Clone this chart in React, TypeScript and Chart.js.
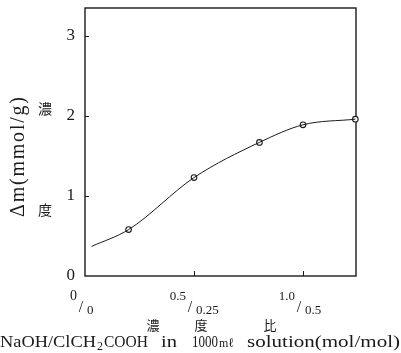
import React, { useEffect, useRef } from "react";
import { Chart, registerables } from "chart.js";

Chart.register(...registerables);

const curveX = [0.03, 0.2, 0.5, 0.8, 1.0, 1.24];
const curveY = [0.37, 0.58, 1.23, 1.67, 1.89, 1.96];
const pointX = [0.2, 0.5, 0.8, 1.0, 1.24];
const pointY = [0.58, 1.23, 1.67, 1.89, 1.96];
const xTickValues = [0, 0.5, 1.0];
const xTickNumerators = ["0", "0.5", "1.0"];
const xTickDenominators = ["0", "0.25", "0.5"];
const yTickValues = [0, 1, 2, 3];
const yTitle = "Δm(mmol/g)";
const yKanji = ["濃", "度"];
const xKanji = ["濃", "度", "比"];
const xTitleParts = ["NaOH/ClCH", "2", "COOH", "in", "1000", "mℓ", "solution(mol/mol)"];

const SERIF = '"Liberation Serif", "DejaVu Serif", serif';
const CJK = '"Noto Sans CJK JP", sans-serif';
const INK = "#1a1a1a";

// layout of the bottom title pieces: [left, right, font size, dy]
const titleLayout: [number, number, number, number][] = [
  [0, 96, 17, 0],
  [97, 103, 12, 3],
  [104, 148, 17, 0],
  [161, 177, 17, 0],
  [192, 218, 16, 0],
  [219, 234, 13, 0],
  [247, 400, 17, 0],
];

function fitText(ctx: any, text: string, x0: number, x1: number, y: number) {
  const w = ctx.measureText(text).width;
  ctx.save();
  ctx.translate(x0, y);
  ctx.scale((x1 - x0) / w, 1);
  ctx.fillText(text, 0, 0);
  ctx.restore();
}

const decorPlugin = {
  id: "decor",
  beforeDatasetsDraw(chart: any) {
    const { ctx, chartArea: ca, scales } = chart;
    const xs = scales.x;
    const ys = scales.y;
    ctx.save();
    ctx.strokeStyle = INK;
    ctx.lineWidth = 1.4;
    ctx.strokeRect(ca.left, ca.top, ca.right - ca.left, ca.bottom - ca.top);
    ctx.lineWidth = 1;
    ctx.beginPath();
    yTickValues.forEach((v) => {
      if (v === 0) return;
      const y = Math.round(ys.getPixelForValue(v)) + 0.5;
      ctx.moveTo(ca.left, y);
      ctx.lineTo(ca.left + 4, y);
    });
    xTickValues.forEach((v) => {
      if (v === 0) return;
      const x = Math.round(xs.getPixelForValue(v)) + 0.5;
      ctx.moveTo(x, ca.bottom);
      ctx.lineTo(x, ca.bottom - 5);
    });
    ctx.stroke();
    ctx.restore();
  },
  afterDraw(chart: any) {
    const { ctx, scales } = chart;
    const xs = scales.x;
    ctx.save();
    ctx.fillStyle = INK;

    // x fractional tick labels
    xTickValues.forEach((v, i) => {
      const px = xs.getPixelForValue(v);
      ctx.textBaseline = "alphabetic";
      ctx.font = `${i === 0 ? 14 : 13}px ${SERIF}`;
      ctx.textAlign = "right";
      ctx.fillText(xTickNumerators[i], px - 8, 300);
      ctx.textAlign = "center";
      ctx.font = `16px ${SERIF}`;
      ctx.fillText("/", px - 4, 312);
      ctx.font = `13px ${SERIF}`;
      ctx.textAlign = "left";
      ctx.fillText(xTickDenominators[i], px + 2, 314);
    });

    // x kanji
    const kx = [153, 201, 270];
    ctx.font = `13px ${CJK}`;
    ctx.textAlign = "center";
    ctx.textBaseline = "middle";
    xKanji.forEach((k, i) => ctx.fillText(k, kx[i], 325));

    // y kanji
    ctx.font = `14px ${CJK}`;
    ctx.fillText(yKanji[0], 45, 109);
    ctx.fillText(yKanji[1], 45, 210);

    // y title
    ctx.save();
    ctx.translate(17, 217);
    ctx.rotate(-Math.PI / 2);
    ctx.font = `20px ${SERIF}`;
    ctx.textAlign = "left";
    ctx.textBaseline = "alphabetic";
    const natural = ctx.measureText(yTitle).width;
    if (natural < 120) {
      (ctx as any).letterSpacing = `${(120 - natural) / (yTitle.length - 1)}px`;
      ctx.fillText(yTitle, 0, 7);
      (ctx as any).letterSpacing = "0px";
    } else {
      fitText(ctx, yTitle, 0, 120, 7);
    }
    ctx.restore();

    // bottom title
    ctx.textAlign = "left";
    ctx.textBaseline = "alphabetic";
    xTitleParts.forEach((t, i) => {
      const [x0, x1, size, dy] = titleLayout[i];
      ctx.font = `${size}px ${SERIF}`;
      fitText(ctx, t, x0, x1, 347 + dy);
    });

    ctx.restore();
  },
};

export default function App() {
  const ref = useRef<HTMLCanvasElement | null>(null);
  useEffect(() => {
    if (!ref.current) return;
    const chart = new Chart(ref.current, {
      type: "scatter",
      data: {
        datasets: [
          {
            data: curveX.map((x, i) => ({ x, y: curveY[i] })),
            showLine: true,
            borderColor: INK,
            borderWidth: 1,
            pointRadius: 0,
            cubicInterpolationMode: "monotone",
            clip: false,
          } as any,
          {
            data: pointX.map((x, i) => ({ x, y: pointY[i] })),
            showLine: false,
            pointRadius: 2.8,
            pointBackgroundColor: "#ffffff",
            pointBorderColor: INK,
            pointBorderWidth: 1.1,
            clip: false,
          } as any,
        ],
      },
      options: {
        animation: false,
        responsive: false,
        maintainAspectRatio: false,
        layout: { padding: { top: 8, right: 45, left: 0, bottom: 0 } },
        plugins: {
          legend: { display: false },
          tooltip: { enabled: false },
          title: { display: false },
        },
        scales: {
          x: {
            type: "linear",
            min: 0,
            max: 1.243,
            grid: { display: false, drawTicks: false },
            border: { display: false },
            ticks: { display: false },
            afterFit: (s: any) => {
              s.height = 77;
              s.paddingLeft = 0;
              s.paddingRight = 0;
            },
          },
          y: {
            type: "linear",
            min: 0,
            max: 3.35,
            grid: { display: false, drawTicks: false },
            border: { display: false },
            ticks: {
              stepSize: 1,
              includeBounds: false,
              padding: 10,
              color: INK,
              font: { family: SERIF, size: 17 },
            },
            afterFit: (s: any) => {
              s.width = 85;
              s.paddingTop = 0;
              s.paddingBottom = 0;
            },
          },
        },
      } as any,
      plugins: [decorPlugin],
    });
    return () => chart.destroy();
  }, []);
  return (
    <div style={{ position: "absolute", left: 0, top: 0, width: 401, height: 353, background: "#fff" }}>
      <canvas ref={ref} width={401} height={353} style={{ display: "block" }} />
    </div>
  );
}
